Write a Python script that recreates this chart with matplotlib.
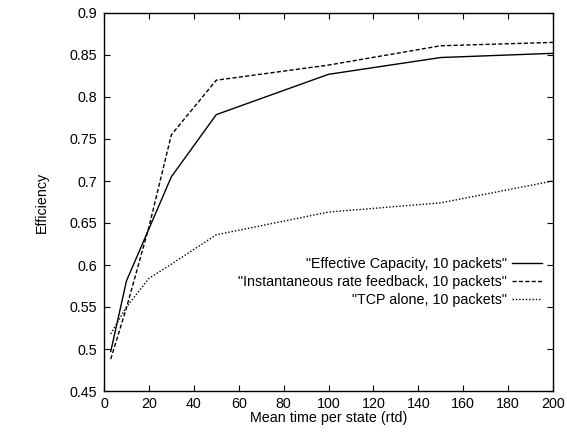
import matplotlib
matplotlib.use("Agg")
from matplotlib import pyplot as plt

# mean time per state (rtd)
mean_time = [3, 10, 20, 30, 50, 100, 150, 200]

effective_capacity = [0.497, 0.581, 0.643, 0.705, 0.779, 0.827, 0.847, 0.852]
instantaneous_rate = [0.488, 0.549, 0.645, 0.755, 0.820, 0.838, 0.861, 0.865]
tcp_alone = [0.518, 0.550, 0.584, 0.601, 0.636, 0.663, 0.674, 0.700]

labels = [
    '"Effective Capacity, 10 packets"',
    '"Instantaneous rate feedback, 10 packets"',
    '"TCP alone, 10 packets"',
]

x_ticks = list(range(0, 201, 20))
y_ticks = [0.45, 0.5, 0.55, 0.6, 0.65, 0.7, 0.75, 0.8, 0.85, 0.9]

plt.rcParams["font.family"] = ["Liberation Sans", "DejaVu Sans"]
plt.rcParams["font.size"] = 10.3

fig = plt.figure(figsize=(5.67, 4.36), dpi=100)
ax = fig.add_axes([104 / 567, 45 / 436, 449 / 567, 378 / 436])

ax.plot(mean_time, effective_capacity, color="black", linewidth=1.0, label=labels[0])
ax.plot(mean_time, instantaneous_rate, color="black", linewidth=1.0,
        linestyle=(0, (3.0, 1.6)), label=labels[1])
ax.plot(mean_time, tcp_alone, color="black", linewidth=1.0,
        linestyle=(0, (1.0, 1.4)), label=labels[2])

ax.set_xlim(0, 200)
ax.set_ylim(0.45, 0.9)
ax.set_xticks(x_ticks)
ax.set_yticks(y_ticks)
ax.set_xticklabels([str(v) for v in x_ticks])
ax.set_yticklabels([f"{v:g}" for v in y_ticks])

ax.tick_params(direction="in", length=4.5, width=0.8, top=True, right=True,
               colors="black")
ax.tick_params(axis="y", pad=5)
ax.tick_params(axis="x", pad=4)
for side in ["top", "right", "bottom", "left"]:
    ax.spines[side].set_linewidth(1.0)

ax.set_xlabel("Mean time per state (rtd)", labelpad=0)
ax.set_ylabel("Efficiency", labelpad=15)

ax.legend(
    loc="center right",
    bbox_to_anchor=(0.9755, 0.288),
    frameon=False,
    markerfirst=False,
    borderpad=0,
    borderaxespad=0,
    handlelength=2.1,
    handletextpad=0.35,
    labelspacing=0.26,
)

fig.savefig("out.png", dpi=100)
plt.close(fig)
